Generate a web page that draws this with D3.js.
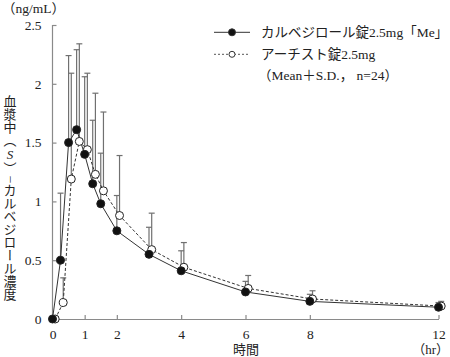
<!DOCTYPE html>
<html><head><meta charset="utf-8">
<script src="https://cdn.jsdelivr.net/npm/d3@7"></script>
<style>
html,body{margin:0;padding:0;background:#fff;}
svg{display:block;}
text{font-family:'Liberation Serif','Noto Sans CJK JP',serif;fill:#222;}
</style></head>
<body><svg id="c" width="450" height="357"></svg>
<script>
const times = [0, 0.25, 0.5, 0.75, 1, 1.25, 1.5, 2, 3, 4, 6, 8, 12];
const meMean = [0, 0.50, 1.50, 1.61, 1.40, 1.15, 0.98, 0.75, 0.55, 0.41, 0.23, 0.15, 0.10];
const meSD   = [0, 0.57, 0.74, 0.68, 0.66, 0.54, 0.43, 0.30, 0.23, 0.17, 0.09, 0.06, 0.04];
const arMean = [0, 0.14, 1.19, 1.51, 1.44, 1.23, 1.09, 0.88, 0.59, 0.44, 0.26, 0.17, 0.11];
const arSD   = [0, 0.21, 0.90, 0.83, 0.65, 0.69, 0.67, 0.51, 0.31, 0.21, 0.11, 0.07, 0.04];
const xTicks = [0, 1, 2, 4, 6, 8, 12];
const yTicks = [0, 0.5, 1, 1.5, 2, 2.5];
const seriesNames = ["カルベジロール錠2.5mg「Me」", "アーチスト錠2.5mg"];
const legendNote = "（Mean＋S.D.，  n=24）";

const svg = d3.select("#c");
const x = d3.scaleLinear().domain([0, 12]).range([52.5, 438.5]);
const y = d3.scaleLinear().domain([0, 2.5]).range([319, 25]);
const axisColor = "#8a8a8a", lineColor = "#333", errColor = "#707070";
const openOff = 2.7;

const series = [
  {name: seriesNames[0], mean: meMean, sd: meSD, off: 0, filled: true},
  {name: seriesNames[1], mean: arMean, sd: arSD, off: openOff, filled: false}
];

// axes
const yAxis = d3.axisLeft(y).tickValues(yTicks).tickSize(-4).tickPadding(11)
  .tickFormat(d => d3.format("")(d));
const gy = svg.append("g").attr("transform", "translate(52.5,0)").call(yAxis);
const xAxis = d3.axisBottom(x).tickValues(xTicks).tickSize(-4).tickPadding(10).tickSizeOuter(0);
const gx = svg.append("g").attr("transform", "translate(0,319)").call(xAxis);
[gx, gy].forEach(g => {
  g.attr("font-family", null);
  g.select(".domain").attr("stroke", axisColor).attr("stroke-width", 1.2);
  g.selectAll(".tick line").attr("stroke", axisColor).attr("stroke-width", 1.2);
  g.selectAll(".tick text").attr("fill", "#222").style("font-size", "13.5px")
    .style("font-family", "'Liberation Serif',serif");
});
gy.select(".domain").attr("d", "M0," + y(0) + "V" + y(2.5));

// error bars
series.forEach(s => {
  const g = svg.append("g");
  times.forEach((t, i) => {
    if (s.sd[i] <= 0) return;
    const cx = x(t) + s.off, y0 = y(s.mean[i]), y1 = y(s.mean[i] + s.sd[i]);
    g.append("line").attr("x1", cx).attr("x2", cx).attr("y1", y0).attr("y2", y1)
      .attr("stroke", errColor).attr("stroke-width", 1.2);
    g.append("line").attr("x1", cx - 3).attr("x2", cx + 3).attr("y1", y1).attr("y2", y1)
      .attr("stroke", errColor).attr("stroke-width", 1.2);
  });
});

// lines
series.forEach(s => {
  const line = d3.line().x((d, i) => x(times[i]) + s.off).y(d => y(d));
  svg.append("path").datum(s.mean).attr("d", line).attr("fill", "none")
    .attr("stroke", lineColor).attr("stroke-width", 1)
    .attr("stroke-dasharray", s.filled ? null : "3,2");
});
// markers
series.slice().reverse().forEach(s => {
  svg.append("g").selectAll("circle").data(s.mean).join("circle")
    .attr("cx", (d, i) => x(times[i]) + s.off).attr("cy", d => y(d)).attr("r", 4)
    .attr("fill", s.filled ? "#111" : "#fff").attr("stroke", "#222").attr("stroke-width", 1);
});

// legend
const lg = svg.append("g");
series.forEach((s, i) => {
  const ly = 32.3 + i * 22;
  lg.append("line").attr("x1", 214).attr("x2", 250).attr("y1", ly).attr("y2", ly)
    .attr("stroke", s.filled ? lineColor : "#555").attr("stroke-width", 1)
    .attr("stroke-dasharray", s.filled ? null : "2,2");
  lg.append("circle").attr("cx", 232).attr("cy", ly).attr("r", s.filled ? 3.5 : 3)
    .attr("fill", s.filled ? "#111" : "#fff").attr("stroke", "#333").attr("stroke-width", 1);
  lg.append("text").attr("x", 261).attr("y", ly + 5).style("font-size", "13.5px").text(s.name);
});
lg.append("text").attr("x", 258).attr("y", 80).style("font-size", "13.5px").text(legendNote);

// unit labels
svg.append("text").attr("x", 2).attr("y", 13).style("font-size", "13.5px").text("（ng/mL）");
svg.append("text").attr("x", 246).attr("y", 354).attr("text-anchor", "middle")
  .style("font-size", "13px").text("時間");
svg.append("text").attr("x", 449).attr("y", 354).attr("text-anchor", "end")
  .style("font-size", "13px").text("（hr）");

// y title (vertical)
const yt = svg.append("text").attr("x", 10).attr("y", 198)
  .attr("text-anchor", "middle").style("writing-mode", "vertical-rl")
  .style("font-size", "13px").style("font-family", "'Noto Sans CJK JP',sans-serif");
yt.append("tspan").text("血漿中（");
yt.append("tspan").style("font-style", "italic").style("font-family", "'Liberation Serif',serif")
  .style("text-orientation", "upright").text("S");
yt.append("tspan").text("）");
yt.append("tspan").style("font-size", "9px").text("－");
yt.append("tspan").text("カルベジロール濃度");
</script></body></html>
